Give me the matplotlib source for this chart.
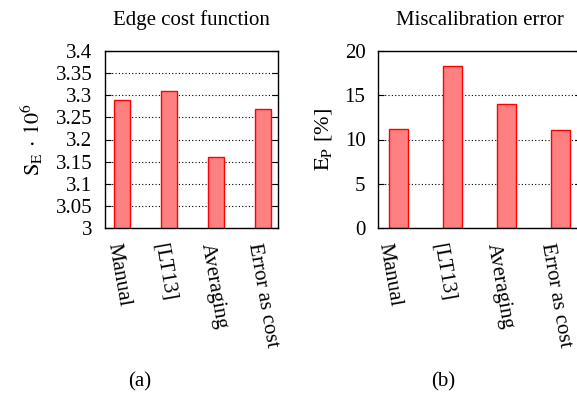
import numpy as np
import matplotlib
matplotlib.use("Agg")
import matplotlib.pyplot as plt
import matplotlib.transforms as mtransforms

# dados
metodos = ["Manual", "[LT13]", "Averaging", "Error as cost"]
custo = [3.29, 3.31, 3.16, 3.27]
erro = [11.2, 18.3, 14.0, 11.1]

custo_ticks = [3.0, 3.05, 3.1, 3.15, 3.2, 3.25, 3.3, 3.35, 3.4]
custo_labels = ["3", "3.05", "3.1", "3.15", "3.2", "3.25", "3.3", "3.35", "3.4"]
erro_ticks = [0, 5, 10, 15, 20]

plt.rcParams["font.family"] = ["Liberation Serif", "DejaVu Serif"]
plt.rcParams["mathtext.fontset"] = "stix"
plt.rcParams["font.size"] = 15

fig = plt.figure(figsize=(5.77, 3.94), dpi=100)
ax1 = fig.add_axes([105 / 577, 166 / 394, 173 / 577, 177 / 394])
ax2 = fig.add_axes([378 / 577, 166 / 394, 203 / 577, 177 / 394])

x = np.arange(len(metodos))


def estilo(ax, valores, ticks, labels, xlim, titulo, ylabel, desloc=0):
    ax.set_axisbelow(True)
    ax.bar(x, valores, width=0.35, color="#ff8080", edgecolor="#ff0000",
           linewidth=1.0)
    ax.set_xlim(*xlim)
    ax.set_ylim(ticks[0], ticks[-1])
    ax.set_yticks(ticks)
    ax.set_yticklabels(labels)
    ax.yaxis.grid(True, linestyle=(0, (1, 2)), color="black", linewidth=0.8)
    ax.tick_params(axis="y", direction="in", length=4, pad=9, right=True,
                   labelsize=15)
    ax.tick_params(axis="x", length=0, pad=10)
    ax.set_xticks(x)
    ax.set_xticklabels(metodos, rotation=-80, ha="left", va="top",
                       rotation_mode="anchor", fontsize=15)
    if desloc:
        off = mtransforms.ScaledTranslation(desloc / 100, 0, fig.dpi_scale_trans)
        for lab in ax.get_xticklabels():
            lab.set_transform(lab.get_transform() + off)
    ax.set_title(titulo, pad=19, fontsize=15)
    ax.set_ylabel(ylabel, fontsize=16, labelpad=8)
    for s in ax.spines.values():
        s.set_linewidth(1.0)


estilo(ax1, custo, custo_ticks, custo_labels, (-0.36, 3.32),
       "Edge cost function", r"$\mathrm{S_E}\,\cdot\,10^6$")
estilo(ax2, erro, erro_ticks, [str(t) for t in erro_ticks], (-0.37, 3.37),
       "Miscalibration error", r"$\mathrm{E_P}$ [%]", desloc=-5)

fig.text(140 / 577, 1 - 382 / 394, "(a)", ha="center", va="center", fontsize=15)
fig.text(443 / 577, 1 - 382 / 394, "(b)", ha="center", va="center", fontsize=15)

fig.savefig("out.png", dpi=100)
